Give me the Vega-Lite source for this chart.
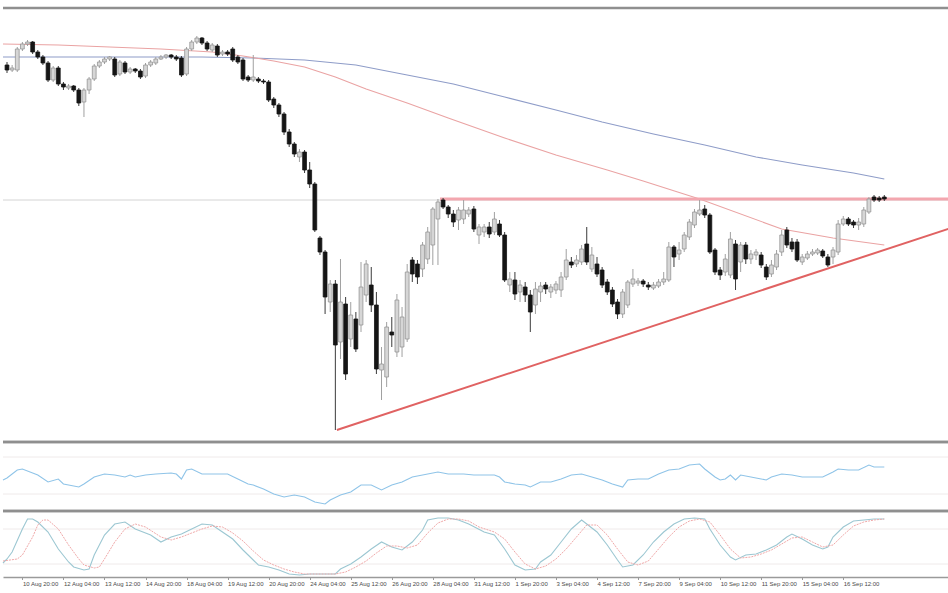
{
  "$schema": "https://vega.github.io/schema/vega-lite/v6.json",
  "background": "white",
  "padding": {"top": 6, "left": 0, "right": 0, "bottom": 0},
  "spacing": 0,
  "bounds": "flush",
  "config": {"view": {"stroke": null}, "scale": {"continuousPadding": 0}},
  "datasets": {
    "candles": [
      {"i":0,"o":377,"c":372,"h":380,"l":369},{"i":1,"o":372,"c":374,"h":377,"l":370},{"i":2,"o":372,"c":393,"h":395,"l":370},{"i":3,"o":393,"c":398,"h":400,"l":391},{"i":4,"o":398,"c":400,"h":402,"l":396},
      {"i":5,"o":400,"c":390,"h":401,"l":388},{"i":6,"o":390,"c":385,"h":392,"l":383},{"i":7,"o":385,"c":379,"h":387,"l":377},{"i":8,"o":379,"c":362,"h":381,"l":360},{"i":9,"o":362,"c":374,"h":376,"l":360},
      {"i":10,"o":374,"c":358,"h":376,"l":356},{"i":11,"o":358,"c":355,"h":360,"l":352},{"i":12,"o":354,"c":356,"h":358,"l":352},{"i":13,"o":356,"c":352,"h":357,"l":350},{"i":14,"o":352,"c":339,"h":354,"l":336},
      {"i":15,"o":340,"c":352,"h":354,"l":325},{"i":16,"o":352,"c":363,"h":365,"l":348},{"i":17,"o":363,"c":376,"h":378,"l":361},{"i":18,"o":376,"c":380,"h":382,"l":374},{"i":19,"o":380,"c":383,"h":385,"l":378},
      {"i":20,"o":383,"c":385,"h":386,"l":381},{"i":21,"o":383,"c":367,"h":385,"l":365},{"i":22,"o":368,"c":380,"h":382,"l":366},{"i":23,"o":379,"c":370,"h":381,"l":368},{"i":24,"o":370,"c":373,"h":375,"l":368},
      {"i":25,"o":373,"c":371,"h":374,"l":369},{"i":26,"o":371,"c":365,"h":373,"l":363},{"i":27,"o":366,"c":377,"h":379,"l":364},{"i":28,"o":377,"c":380,"h":382,"l":375},{"i":29,"o":379,"c":383,"h":385,"l":377},
      {"i":30,"o":383,"c":385,"h":387,"l":382},{"i":31,"o":385,"c":387,"h":388,"l":383},{"i":32,"o":387,"c":385,"h":388,"l":383},{"i":33,"o":385,"c":383,"h":387,"l":381},{"i":34,"o":384,"c":367,"h":386,"l":365},
      {"i":35,"o":368,"c":393,"h":395,"l":366},{"i":36,"o":393,"c":400,"h":402,"l":391},{"i":37,"o":400,"c":404,"h":406,"l":398},{"i":38,"o":404,"c":399,"h":405,"l":397},{"i":39,"o":399,"c":393,"h":401,"l":391},
      {"i":40,"o":392,"c":397,"h":399,"l":390},{"i":41,"o":396,"c":387,"h":398,"l":385},{"i":42,"o":388,"c":390,"h":392,"l":386},{"i":43,"o":390,"c":388,"h":392,"l":386},{"i":44,"o":393,"c":382,"h":395,"l":380},
      {"i":45,"o":385,"c":380,"h":387,"l":378},{"i":46,"o":382,"c":363,"h":384,"l":361},{"i":47,"o":365,"c":362,"h":367,"l":360},{"i":48,"o":362,"c":365,"h":387,"l":360},{"i":49,"o":363,"c":361,"h":365,"l":359},
      {"i":50,"o":361,"c":360,"h":363,"l":358},{"i":51,"o":360,"c":342,"h":362,"l":340},{"i":52,"o":343,"c":337,"h":345,"l":334},{"i":53,"o":337,"c":328,"h":339,"l":325},{"i":54,"o":328,"c":310,"h":330,"l":307},
      {"i":55,"o":310,"c":298,"h":313,"l":295},{"i":56,"o":298,"c":288,"h":300,"l":285},{"i":57,"o":285,"c":290,"h":293,"l":280},{"i":58,"o":290,"c":272,"h":292,"l":269},{"i":59,"o":272,"c":258,"h":280,"l":254},
      {"i":60,"o":258,"c":212,"h":260,"l":210},{"i":61,"o":204,"c":190,"h":206,"l":187},{"i":62,"o":190,"c":145,"h":192,"l":128},{"i":63,"o":140,"c":158,"h":162,"l":130},{"i":64,"o":158,"c":97,"h":162,"l":12},
      {"i":65,"o":100,"c":140,"h":183,"l":83},{"i":66,"o":138,"c":68,"h":145,"l":62},{"i":67,"o":103,"c":127,"h":140,"l":95},{"i":68,"o":123,"c":93,"h":130,"l":90},{"i":69,"o":117,"c":155,"h":180,"l":110},
      {"i":70,"o":147,"c":178,"h":182,"l":140},{"i":71,"o":157,"c":137,"h":175,"l":130},{"i":72,"o":137,"c":73,"h":150,"l":68},{"i":73,"o":72,"c":78,"h":95,"l":42},{"i":74,"o":65,"c":115,"h":120,"l":55},
      {"i":75,"o":110,"c":107,"h":125,"l":95},{"i":76,"o":90,"c":142,"h":148,"l":85},{"i":77,"o":95,"c":125,"h":135,"l":85},{"i":78,"o":103,"c":170,"h":178,"l":100},{"i":79,"o":182,"c":168,"h":185,"l":160},
      {"i":80,"o":178,"c":165,"h":182,"l":158},{"i":81,"o":173,"c":197,"h":200,"l":165},{"i":82,"o":183,"c":210,"h":215,"l":178},{"i":83,"o":197,"c":233,"h":235,"l":177},{"i":84,"o":223,"c":240,"h":243,"l":177},
      {"i":85,"o":242,"c":235,"h":244,"l":233},{"i":86,"o":235,"c":228,"h":237,"l":224},{"i":87,"o":228,"c":220,"h":232,"l":215},{"i":88,"o":222,"c":232,"h":235,"l":212},{"i":89,"o":223,"c":232,"h":242,"l":218},
      {"i":90,"o":228,"c":232,"h":235,"l":225},{"i":91,"o":233,"c":213,"h":236,"l":210},{"i":92,"o":207,"c":215,"h":218,"l":198},{"i":93,"o":210,"c":215,"h":218,"l":205},{"i":94,"o":215,"c":208,"h":220,"l":204},
      {"i":95,"o":210,"c":223,"h":230,"l":207},{"i":96,"o":218,"c":207,"h":222,"l":205},{"i":97,"o":207,"c":162,"h":210,"l":160},{"i":98,"o":157,"c":163,"h":170,"l":150},{"i":99,"o":162,"c":148,"h":170,"l":142},
      {"i":100,"o":150,"c":157,"h":162,"l":140},{"i":101,"o":155,"c":147,"h":160,"l":140},{"i":102,"o":147,"c":130,"h":152,"l":110},{"i":103,"o":137,"c":153,"h":160,"l":128},{"i":104,"o":150,"c":156,"h":160,"l":140},
      {"i":105,"o":157,"c":153,"h":160,"l":148},{"i":106,"o":150,"c":155,"h":158,"l":144},{"i":107,"o":152,"c":158,"h":161,"l":148},{"i":108,"o":152,"c":165,"h":170,"l":145},{"i":109,"o":165,"c":182,"h":193,"l":162},
      {"i":110,"o":180,"c":177,"h":185,"l":174},{"i":111,"o":178,"c":182,"h":187,"l":175},{"i":112,"o":180,"c":193,"h":197,"l":177},{"i":113,"o":198,"c":180,"h":215,"l":177},{"i":114,"o":173,"c":187,"h":195,"l":170},
      {"i":115,"o":178,"c":168,"h":185,"l":165},{"i":116,"o":172,"c":157,"h":175,"l":154},{"i":117,"o":160,"c":150,"h":163,"l":147},{"i":118,"o":152,"c":138,"h":155,"l":135},{"i":119,"o":140,"c":128,"h":143,"l":123},
      {"i":120,"o":128,"c":150,"h":153,"l":124},{"i":121,"o":137,"c":160,"h":162,"l":134},{"i":122,"o":158,"c":163,"h":173,"l":155},{"i":123,"o":159,"c":161,"h":164,"l":156},{"i":124,"o":161,"c":158,"h":163,"l":155},
      {"i":125,"o":157,"c":155,"h":160,"l":152},{"i":126,"o":154,"c":157,"h":160,"l":152},{"i":127,"o":156,"c":160,"h":163,"l":154},{"i":128,"o":160,"c":163,"h":170,"l":157},{"i":129,"o":162,"c":195,"h":200,"l":160},
      {"i":130,"o":195,"c":185,"h":197,"l":175},{"i":131,"o":188,"c":192,"h":200,"l":182},{"i":132,"o":193,"c":207,"h":210,"l":190},{"i":133,"o":205,"c":220,"h":223,"l":202},{"i":134,"o":217,"c":230,"h":233,"l":214},
      {"i":135,"o":228,"c":232,"h":242,"l":226},{"i":136,"o":233,"c":227,"h":237,"l":224},{"i":137,"o":227,"c":190,"h":229,"l":188},{"i":138,"o":192,"c":170,"h":194,"l":167},{"i":139,"o":172,"c":167,"h":175,"l":162},
      {"i":140,"o":170,"c":183,"h":188,"l":166},{"i":141,"o":167,"c":203,"h":210,"l":164},{"i":142,"o":198,"c":163,"h":202,"l":152},{"i":143,"o":180,"c":197,"h":200,"l":170},{"i":144,"o":197,"c":183,"h":200,"l":178},
      {"i":145,"o":183,"c":188,"h":192,"l":178},{"i":146,"o":187,"c":190,"h":193,"l":182},{"i":147,"o":187,"c":177,"h":190,"l":174},{"i":148,"o":175,"c":165,"h":178,"l":162},{"i":149,"o":168,"c":177,"h":182,"l":165},
      {"i":150,"o":175,"c":188,"h":192,"l":172},{"i":151,"o":190,"c":207,"h":212,"l":186},{"i":152,"o":212,"c":197,"h":215,"l":194},{"i":153,"o":200,"c":193,"h":204,"l":190},{"i":154,"o":200,"c":182,"h":203,"l":180},
      {"i":155,"o":180,"c":185,"h":188,"l":177},{"i":156,"o":184,"c":188,"h":191,"l":182},{"i":157,"o":188,"c":190,"h":193,"l":186},{"i":158,"o":189,"c":192,"h":194,"l":187},{"i":159,"o":191,"c":186,"h":193,"l":184},
      {"i":160,"o":185,"c":177,"h":188,"l":175},{"i":161,"o":185,"c":192,"h":195,"l":178},{"i":162,"o":190,"c":218,"h":222,"l":187},{"i":163,"o":218,"c":223,"h":226,"l":216},{"i":164,"o":223,"c":218,"h":225,"l":216},
      {"i":165,"o":220,"c":217,"h":222,"l":214},{"i":166,"o":217,"c":220,"h":224,"l":212},{"i":167,"o":218,"c":232,"h":235,"l":215},{"i":168,"o":230,"c":243,"h":245,"l":228},{"i":169,"o":245,"c":242,"h":247,"l":240},
      {"i":170,"o":244,"c":242,"h":246,"l":240},{"i":171,"o":245,"c":243,"h":247,"l":241}
    ],
    "maRed": [
      {"i":-0.78,"v":398},{"i":10,"v":397},{"i":20,"v":395},{"i":30,"v":393},{"i":40,"v":390},{"i":46,"v":386},{"i":52,"v":381},{"i":58,"v":375},{"i":64,"v":365},{"i":70,"v":353},{"i":78,"v":339},{"i":86,"v":324},{"i":97,"v":304},{"i":107,"v":287},{"i":117,"v":272},{"i":124,"v":261},{"i":135,"v":243},{"i":151,"v":213},{"i":161,"v":204},{"i":171,"v":197}
    ],
    "maBlue": [
      {"i":-0.78,"v":385},{"i":19,"v":385},{"i":38,"v":385},{"i":48,"v":384},{"i":58,"v":382},{"i":68,"v":377},{"i":77,"v":368},{"i":87,"v":358},{"i":97,"v":345},{"i":107,"v":332},{"i":116,"v":320},{"i":126,"v":308},{"i":136,"v":297},{"i":146,"v":285},{"i":155,"v":277},{"i":165,"v":269},{"i":171,"v":263}
    ],
    "support": [{"i":64.3,"v":12},{"i":184,"v":214}],
    "resistance": [{"i":84.4,"v":243},{"i":184,"v":243}],
    "rsi": [
      {"i":-0.78,"v":31},{"i":0,"v":33},{"i":2,"v":41},{"i":3,"v":42},{"i":6,"v":36},{"i":8,"v":29},{"i":10,"v":32},{"i":11,"v":27},{"i":14,"v":24},{"i":15,"v":27},{"i":17,"v":34},{"i":19,"v":37},{"i":21,"v":36},{"i":23,"v":34},{"i":24,"v":36},{"i":25,"v":34},{"i":27,"v":36},{"i":29,"v":37},{"i":32,"v":38},{"i":33,"v":37},{"i":34,"v":32},{"i":35,"v":41},{"i":36,"v":42},{"i":38,"v":37},{"i":41,"v":37},{"i":43,"v":37},{"i":45,"v":32},{"i":47,"v":27},{"i":48,"v":26},{"i":50,"v":22},{"i":52,"v":17},{"i":54,"v":14},{"i":56,"v":16},{"i":58,"v":14},{"i":60,"v":9},{"i":62,"v":7},{"i":63,"v":11},{"i":65,"v":16},{"i":67,"v":19},{"i":69,"v":26},{"i":71,"v":26},{"i":73,"v":21},{"i":75,"v":26},{"i":77,"v":29},{"i":79,"v":34},{"i":81,"v":36},{"i":84,"v":39},{"i":86,"v":37},{"i":89,"v":37},{"i":91,"v":36},{"i":95,"v":36},{"i":96,"v":34},{"i":97,"v":29},{"i":99,"v":27},{"i":101,"v":26},{"i":102,"v":24},{"i":104,"v":29},{"i":106,"v":29},{"i":108,"v":32},{"i":110,"v":36},{"i":112,"v":37},{"i":114,"v":34},{"i":116,"v":31},{"i":118,"v":27},{"i":120,"v":24},{"i":121,"v":31},{"i":123,"v":32},{"i":125,"v":32},{"i":127,"v":37},{"i":129,"v":41},{"i":131,"v":42},{"i":133,"v":46},{"i":135,"v":47},{"i":136,"v":42},{"i":138,"v":34},{"i":139,"v":31},{"i":140,"v":32},{"i":141,"v":36},{"i":142,"v":31},{"i":143,"v":36},{"i":145,"v":34},{"i":147,"v":32},{"i":148,"v":31},{"i":149,"v":34},{"i":151,"v":37},{"i":153,"v":36},{"i":155,"v":34},{"i":157,"v":34},{"i":159,"v":34},{"i":161,"v":39},{"i":162,"v":42},{"i":164,"v":41},{"i":166,"v":41},{"i":168,"v":46},{"i":169,"v":44},{"i":171,"v":44}
    ],
    "stoch": [
      {"i":-0.78,"v":14},{"i":0,"v":18},{"i":1,"v":25},{"i":3,"v":48},{"i":4,"v":58},{"i":5,"v":58},{"i":6,"v":55},{"i":8,"v":45},{"i":10,"v":28},{"i":12,"v":15},{"i":13,"v":10},{"i":15,"v":7},{"i":16,"v":8},{"i":17,"v":22},{"i":19,"v":42},{"i":21,"v":53},{"i":23,"v":55},{"i":25,"v":48},{"i":28,"v":42},{"i":30,"v":35},{"i":32,"v":40},{"i":34,"v":43},{"i":36,"v":48},{"i":38,"v":53},{"i":40,"v":52},{"i":42,"v":45},{"i":44,"v":38},{"i":46,"v":27},{"i":48,"v":17},{"i":49,"v":12},{"i":51,"v":10},{"i":53,"v":7},{"i":55,"v":3},{"i":57,"v":2},{"i":59,"v":3},{"i":62,"v":3},{"i":64,"v":3},{"i":65,"v":8},{"i":67,"v":13},{"i":69,"v":20},{"i":71,"v":28},{"i":73,"v":35},{"i":75,"v":30},{"i":77,"v":27},{"i":79,"v":35},{"i":81,"v":47},{"i":82,"v":57},{"i":84,"v":59},{"i":86,"v":59},{"i":88,"v":57},{"i":90,"v":53},{"i":93,"v":45},{"i":95,"v":42},{"i":97,"v":28},{"i":99,"v":12},{"i":101,"v":7},{"i":103,"v":8},{"i":104,"v":15},{"i":106,"v":22},{"i":108,"v":35},{"i":110,"v":48},{"i":112,"v":57},{"i":113,"v":53},{"i":115,"v":45},{"i":117,"v":32},{"i":119,"v":17},{"i":120,"v":10},{"i":122,"v":12},{"i":124,"v":22},{"i":126,"v":35},{"i":128,"v":45},{"i":130,"v":53},{"i":132,"v":58},{"i":134,"v":59},{"i":136,"v":58},{"i":137,"v":48},{"i":139,"v":32},{"i":141,"v":20},{"i":142,"v":17},{"i":144,"v":22},{"i":146,"v":23},{"i":148,"v":27},{"i":150,"v":32},{"i":152,"v":40},{"i":153,"v":43},{"i":155,"v":38},{"i":157,"v":32},{"i":159,"v":28},{"i":160,"v":30},{"i":161,"v":40},{"i":163,"v":50},{"i":165,"v":56},{"i":167,"v":57},{"i":169,"v":58},{"i":171,"v":58}
    ],
    "signal": [
      {"i":-0.78,"v":16},{"i":2,"v":18},{"i":3,"v":22},{"i":5,"v":40},{"i":6,"v":52},{"i":7,"v":57},{"i":8,"v":57},{"i":10,"v":48},{"i":12,"v":32},{"i":14,"v":18},{"i":15,"v":12},{"i":17,"v":9},{"i":18,"v":10},{"i":19,"v":18},{"i":21,"v":35},{"i":23,"v":48},{"i":25,"v":53},{"i":27,"v":50},{"i":30,"v":40},{"i":32,"v":37},{"i":34,"v":40},{"i":36,"v":44},{"i":38,"v":48},{"i":40,"v":51},{"i":42,"v":50},{"i":44,"v":44},{"i":46,"v":36},{"i":48,"v":26},{"i":50,"v":17},{"i":52,"v":12},{"i":54,"v":8},{"i":56,"v":5},{"i":58,"v":3},{"i":61,"v":3},{"i":64,"v":3},{"i":66,"v":5},{"i":68,"v":10},{"i":70,"v":16},{"i":72,"v":24},{"i":74,"v":31},{"i":76,"v":31},{"i":78,"v":29},{"i":80,"v":32},{"i":82,"v":44},{"i":84,"v":54},{"i":86,"v":58},{"i":88,"v":58},{"i":90,"v":56},{"i":92,"v":50},{"i":95,"v":45},{"i":97,"v":38},{"i":99,"v":25},{"i":101,"v":13},{"i":103,"v":8},{"i":105,"v":11},{"i":107,"v":18},{"i":109,"v":28},{"i":111,"v":40},{"i":113,"v":52},{"i":115,"v":52},{"i":117,"v":42},{"i":119,"v":28},{"i":121,"v":15},{"i":123,"v":12},{"i":125,"v":16},{"i":127,"v":28},{"i":129,"v":40},{"i":131,"v":50},{"i":133,"v":56},{"i":135,"v":58},{"i":137,"v":55},{"i":139,"v":42},{"i":141,"v":28},{"i":143,"v":19},{"i":145,"v":20},{"i":147,"v":23},{"i":149,"v":27},{"i":151,"v":33},{"i":153,"v":39},{"i":155,"v":40},{"i":157,"v":35},{"i":159,"v":30},{"i":161,"v":32},{"i":163,"v":42},{"i":165,"v":51},{"i":167,"v":55},{"i":169,"v":57},{"i":171,"v":58}
    ]
  },
  "vconcat": [
    {
      "width": 948,
      "height": 434,
      "layer": [
        {
          "data": {"values": [{"v": 0}, {"v": 434}]},
          "mark": {"type": "rule", "color": "#8f8f8f", "strokeWidth": 2.5},
          "encoding": {"y": {"field": "v", "type": "quantitative", "axis": null, "scale": {"domain": [0, 434], "nice": false, "zero": false, "padding": 0}}}
        },
        {
          "data": {"values": [{"v": 242}]},
          "mark": {"type": "rule", "color": "#d4d4d4", "strokeWidth": 1},
          "encoding": {"y": {"field": "v", "type": "quantitative", "axis": null, "scale": {"domain": [0, 434], "nice": false, "zero": false, "padding": 0}}}
        },
        {
          "data": {"name": "maBlue"},
          "mark": {"type": "line", "color": "#8e9cc8", "strokeWidth": 1.1},
          "encoding": {
            "x": {"field": "i", "type": "quantitative", "axis": null, "scale": {"domain": [-0.78, 184], "nice": false, "zero": false, "padding": 0}},
            "y": {"field": "v", "type": "quantitative", "axis": null, "scale": {"domain": [0, 434], "nice": false, "zero": false, "padding": 0}}
          }
        },
        {
          "data": {"name": "maRed"},
          "mark": {"type": "line", "color": "#eaa3a3", "strokeWidth": 1.1},
          "encoding": {
            "x": {"field": "i", "type": "quantitative", "axis": null, "scale": {"domain": [-0.78, 184], "nice": false, "zero": false, "padding": 0}},
            "y": {"field": "v", "type": "quantitative", "axis": null, "scale": {"domain": [0, 434], "nice": false, "zero": false, "padding": 0}}
          }
        },
        {
          "data": {"name": "resistance"},
          "mark": {"type": "line", "color": "#f3a7af", "strokeWidth": 3},
          "encoding": {
            "x": {"field": "i", "type": "quantitative", "axis": null, "scale": {"domain": [-0.78, 184], "nice": false, "zero": false, "padding": 0}},
            "y": {"field": "v", "type": "quantitative", "axis": null, "scale": {"domain": [0, 434], "nice": false, "zero": false, "padding": 0}}
          }
        },
        {
          "data": {"name": "support"},
          "mark": {"type": "line", "color": "#e06262", "strokeWidth": 2},
          "encoding": {
            "x": {"field": "i", "type": "quantitative", "axis": null, "scale": {"domain": [-0.78, 184], "nice": false, "zero": false, "padding": 0}},
            "y": {"field": "v", "type": "quantitative", "axis": null, "scale": {"domain": [0, 434], "nice": false, "zero": false, "padding": 0}}
          }
        },
        {
          "data": {"name": "candles"},
          "mark": {"type": "rule", "strokeWidth": 1},
          "encoding": {
            "x": {"field": "i", "type": "quantitative", "axis": null, "scale": {"domain": [-0.78, 184], "nice": false, "zero": false, "padding": 0}},
            "y": {"field": "l", "type": "quantitative", "axis": null, "scale": {"domain": [0, 434], "nice": false, "zero": false, "padding": 0}},
            "y2": {"field": "h"},
            "color": {"condition": {"test": "datum.c > datum.o", "value": "#a0a0a0"}, "value": "#3a3a3a"}
          }
        },
        {
          "data": {"name": "candles"},
          "mark": {"type": "bar", "size": 3.8, "strokeWidth": 0.8},
          "encoding": {
            "x": {"field": "i", "type": "quantitative", "axis": null, "scale": {"domain": [-0.78, 184], "nice": false, "zero": false, "padding": 0}},
            "y": {"field": "o", "type": "quantitative", "axis": null, "scale": {"domain": [0, 434], "nice": false, "zero": false, "padding": 0}},
            "y2": {"field": "c"},
            "fill": {"condition": {"test": "datum.c > datum.o", "value": "#d6d6d6"}, "value": "#151515"},
            "stroke": {"condition": {"test": "datum.c > datum.o", "value": "#969696"}, "value": "#151515"}
          }
        }
      ]
    },
    {
      "width": 948,
      "height": 69,
      "layer": [
        {
          "data": {"values": [{"v": 17}, {"v": 54}]},
          "mark": {"type": "rule", "color": "#efeaea", "strokeWidth": 1},
          "encoding": {"y": {"field": "v", "type": "quantitative", "axis": null, "scale": {"domain": [0, 69], "nice": false, "zero": false, "padding": 0}}}
        },
        {
          "data": {"values": [{"v": 0}, {"v": 69}]},
          "mark": {"type": "rule", "color": "#8f8f8f", "strokeWidth": 2.5},
          "encoding": {"y": {"field": "v", "type": "quantitative", "axis": null, "scale": {"domain": [0, 69], "nice": false, "zero": false, "padding": 0}}}
        },
        {
          "data": {"name": "rsi"},
          "mark": {"type": "line", "color": "#8fc4e8", "strokeWidth": 1.1},
          "encoding": {
            "x": {"field": "i", "type": "quantitative", "axis": null, "scale": {"domain": [-0.78, 184], "nice": false, "zero": false, "padding": 0}},
            "y": {"field": "v", "type": "quantitative", "axis": null, "scale": {"domain": [0, 69], "nice": false, "zero": false, "padding": 0}}
          }
        }
      ]
    },
    {
      "width": 948,
      "height": 66,
      "layer": [
        {
          "data": {"values": [{"v": 13}, {"v": 48}]},
          "mark": {"type": "rule", "color": "#efeaea", "strokeWidth": 1},
          "encoding": {"y": {"field": "v", "type": "quantitative", "axis": null, "scale": {"domain": [0, 66], "nice": false, "zero": false, "padding": 0}}}
        },
        {
          "data": {"values": [{"v": 66}]},
          "mark": {"type": "rule", "color": "#8f8f8f", "strokeWidth": 2.5},
          "encoding": {"y": {"field": "v", "type": "quantitative", "axis": null, "scale": {"domain": [0, 66], "nice": false, "zero": false, "padding": 0}}}
        },
        {
          "data": {"name": "stoch"},
          "mark": {"type": "line", "color": "#9cc7d2", "strokeWidth": 1.1},
          "encoding": {
            "x": {
              "field": "i", "type": "quantitative",
              "scale": {"domain": [-0.78, 184], "nice": false, "zero": false, "padding": 0},
              "axis": {
                "values": [3, 11, 19, 27, 35, 43, 51, 59, 67, 75, 83, 91, 99, 107, 115, 123, 131, 139, 147, 155, 163],
                "labelExpr": "['10 Aug 20:00','12 Aug 04:00','13 Aug 12:00','14 Aug 20:00','18 Aug 04:00','19 Aug 12:00','20 Aug 20:00','24 Aug 04:00','25 Aug 12:00','26 Aug 20:00','28 Aug 04:00','31 Aug 12:00','1 Sep 20:00','3 Sep 04:00','4 Sep 12:00','7 Sep 20:00','9 Sep 04:00','10 Sep 12:00','11 Sep 20:00','15 Sep 04:00','16 Sep 12:00'][(datum.value - 3) / 8]",
                "title": null,
                "grid": false,
                "domainColor": "#9a9a9a",
                "domainWidth": 1.5,
                "tickColor": "#9a9a9a",
                "tickSize": 2.5,
                "labelFont": "Liberation Sans",
                "labelFontSize": 6,
                "labelColor": "#4a4a4a",
                "labelAlign": "left",
                "labelPadding": 1,
                "labelOverlap": false,
                "labelFlush": false,
                "labelBound": false
              }
            },
            "y": {"field": "v", "type": "quantitative", "axis": null, "scale": {"domain": [0, 66], "nice": false, "zero": false, "padding": 0}}
          }
        },
        {
          "data": {"name": "signal"},
          "mark": {"type": "line", "color": "#f0a9a9", "strokeWidth": 1, "strokeDash": [2, 1]},
          "encoding": {
            "x": {"field": "i", "type": "quantitative", "scale": {"domain": [-0.78, 184], "nice": false, "zero": false, "padding": 0}},
            "y": {"field": "v", "type": "quantitative", "axis": null, "scale": {"domain": [0, 66], "nice": false, "zero": false, "padding": 0}}
          }
        }
      ]
    }
  ]
}
